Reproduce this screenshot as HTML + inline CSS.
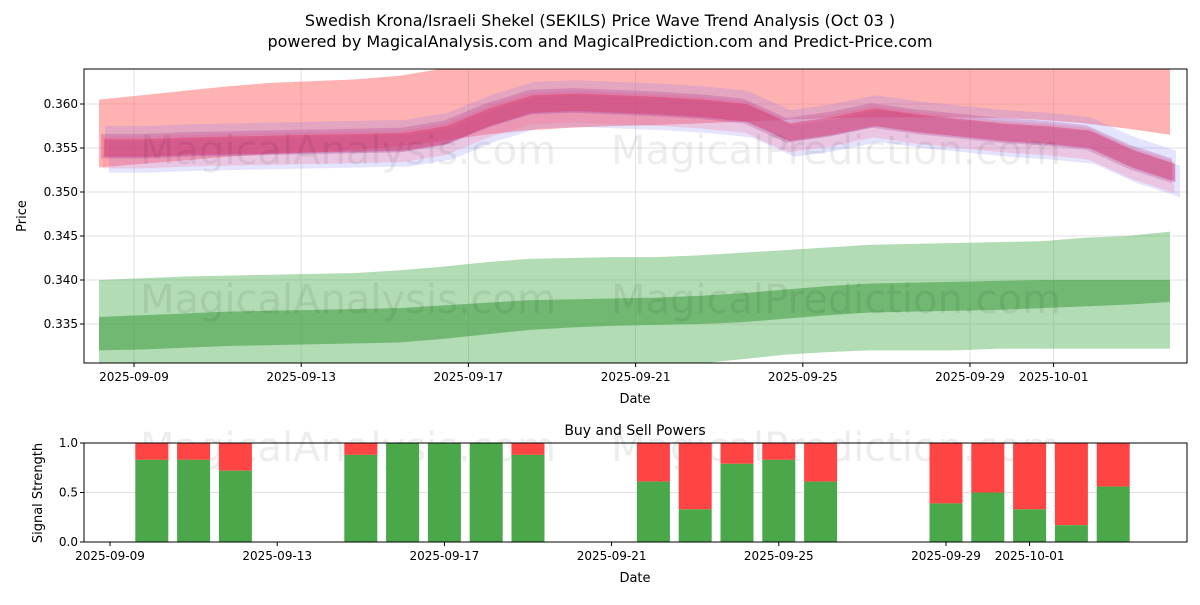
<!DOCTYPE html>
<html><head><meta charset="utf-8"><style>
body{margin:0;background:#fff;font-family:"Liberation Sans","DejaVu Sans",sans-serif;}
text{font-family:"DejaVu Sans","Liberation Sans",sans-serif;}
</style></head><body>
<svg id="chart" width="1200" height="600" xmlns="http://www.w3.org/2000/svg">
<text x="600" y="26" text-anchor="middle" font-size="16">Swedish Krona/Israeli Shekel (SEKILS) Price Wave Trend Analysis (Oct 03 )</text>
<text x="600" y="47" text-anchor="middle" font-size="16">powered by MagicalAnalysis.com and MagicalPrediction.com and Predict-Price.com</text>
<g id="topPanel"></g>
<g id="botPanel"></g>
</svg>
<script>
const days=[-1,0,1,2,3,4,5,6,7,8,9,10,11,12,13,14,15,16,17,18,19,20,21,22,23,24];
const center=[0.3550,0.3550,0.3552,0.3553,0.3554,0.3555,0.3556,0.3557,0.3565,0.3585,0.3600,0.3602,0.3600,0.3598,0.3595,0.3590,0.3568,0.3575,0.3585,0.3578,0.3573,0.3568,0.3565,0.3560,0.3538,0.3522];
const bigUpper=[0.3605,0.3610,0.3615,0.3620,0.3624,0.3626,0.3628,0.3632,0.3640,0.3650,0.3655,0.3655,0.3655,0.3655,0.3655,0.3655,0.3655,0.3655,0.3655,0.3655,0.3655,0.3655,0.3655,0.3655,0.3655,0.3640];
const bigLower=[0.3528,0.3532,0.3536,0.3540,0.3543,0.3545,0.3548,0.3552,0.3558,0.3565,0.3570,0.3573,0.3575,0.3576,0.3578,0.3580,0.3582,0.3584,0.3585,0.3585,0.3585,0.3584,0.3582,0.3578,0.3572,0.3565];
const gOutUp=[0.3400,0.3402,0.3404,0.3405,0.3406,0.3407,0.3408,0.3411,0.3415,0.3420,0.3424,0.3425,0.3426,0.3426,0.3428,0.3431,0.3434,0.3437,0.3440,0.3441,0.3442,0.3443,0.3444,0.3448,0.3450,0.3455];
const gOutLo=[0.3290,0.3290,0.3290,0.3290,0.3290,0.3290,0.3290,0.3290,0.3290,0.3290,0.3290,0.3290,0.3295,0.3300,0.3305,0.3310,0.3315,0.3318,0.3320,0.3320,0.3320,0.3322,0.3322,0.3322,0.3322,0.3322];
const gInUp=[0.3358,0.3360,0.3362,0.3364,0.3365,0.3366,0.3367,0.3368,0.3371,0.3374,0.3377,0.3378,0.3379,0.3380,0.3382,0.3385,0.3389,0.3393,0.3396,0.3397,0.3398,0.3399,0.3400,0.3400,0.3400,0.3400];
const gInLo=[0.3320,0.3321,0.3323,0.3325,0.3326,0.3327,0.3328,0.3329,0.3333,0.3338,0.3343,0.3346,0.3348,0.3349,0.3350,0.3352,0.3356,0.3360,0.3363,0.3364,0.3365,0.3366,0.3368,0.3370,0.3372,0.3375];
const xTickDays=[0,4,8,12,16,20,22];
const xTickLabels=["2025-09-09","2025-09-13","2025-09-17","2025-09-21","2025-09-25","2025-09-29","2025-10-01"];
const yTicks=[0.335,0.340,0.345,0.350,0.355,0.360];
const barDays=[1,2,3,6,7,8,9,10,13,14,15,16,17,20,21,22,23,24];
const buyVals=[0.83,0.83,0.72,0.88,1.0,1.0,1.0,0.88,0.61,0.33,0.79,0.83,0.61,0.39,0.5,0.33,0.17,0.56];
const sigTicks=[0,0.5,1.0];

const NS="http://www.w3.org/2000/svg";
function mk(parent,tag,attrs){const e=document.createElementNS(NS,tag);for(const k in attrs)e.setAttribute(k,attrs[k]);parent.appendChild(e);return e;}
const topG=document.getElementById('topPanel'),botG=document.getElementById('botPanel');
const L=84,R=1187,T=69,B=363;
const xs=d=>134+41.8*d;
const bandX=d=>99+(d+1)*42.84;
const ys=v=>104+(0.360-v)/0.005*44;
const clip=mk(topG,'clipPath',{id:'cp'});mk(clip,'rect',{x:L,y:T,width:R-L,height:B-T});
yTicks.forEach(v=>{const l=mk(topG,'line',{x1:L,x2:R,y1:ys(v),y2:ys(v),stroke:'#e0e0e0','stroke-width':1});

const t=mk(topG,'text',{x:L-6,y:ys(v)+4,'text-anchor':'end','font-size':12});t.textContent=v.toFixed(3);

const m=mk(topG,'line',{x1:L-4,x2:L,y1:ys(v),y2:ys(v),stroke:'#000'});});
xTickDays.forEach((d,i)=>{const l=mk(topG,'line',{x1:xs(d),x2:xs(d),y1:T,y2:B,stroke:'#e0e0e0','stroke-width':1});

const t=mk(topG,'text',{x:xs(d),y:B+18,'text-anchor':'middle','font-size':12});t.textContent=xTickLabels[i];

const m=mk(topG,'line',{x1:xs(d),x2:xs(d),y1:B,y2:B+4,stroke:'#000'});});
const g=mk(topG,'g',{'clip-path':'url(#cp)'});
function band(up,lo,fill,op,off,shift,name){let p='';
days.forEach((d,i)=>{p+=(i?'L':'M')+(bandX(d)+shift)+','+ys(up[i]+off);});
for(let i=days.length-1;i>=0;i--)p+='L'+(bandX(days[i])+shift)+','+ys(lo[i]+off);
const e=mk(g,'path',{d:p+'Z',fill:fill,'fill-opacity':op});
}
band(gOutUp,gOutLo,'#4caf50',0.43,0,0,'green-outer-band');
band(gInUp,gInLo,'#3c9a3c',0.55,0,0,'green-inner-band');
band(bigUpper,bigLower,'#ff5555',0.45,0,0,'red-outer-band');
const cu=center.map(v=>v+0.0018),cl=center.map(v=>v-0.0018);
band(cu,cl,'#6a6aff',0.18,-0.0010,10,'blue-band-1');
band(cu,cl,'#6a6aff',0.18,0.0007,6,'blue-band-2');
band(cu,cl,'#ff6a8a',0.25,-0.0005,4,'red-band-1');
band(center.map(v=>v+0.0014),center.map(v=>v-0.0014),'#b04090',0.28,0.0002,2,'purple-band');
band(center.map(v=>v+0.001),center.map(v=>v-0.001),'#e0305a',0.4,0,5,'red-core-band');
const wm1=mk(topG,'text',{x:348,y:164,'text-anchor':'middle','font-size':40,fill:'#000','fill-opacity':0.07});wm1.textContent='MagicalAnalysis.com';

const wm2=mk(topG,'text',{x:836,y:164,'text-anchor':'middle','font-size':40,fill:'#000','fill-opacity':0.07});wm2.textContent='MagicalPrediction.com';

const wm3=mk(topG,'text',{x:348,y:313,'text-anchor':'middle','font-size':40,fill:'#000','fill-opacity':0.07});wm3.textContent='MagicalAnalysis.com';

const wm4=mk(topG,'text',{x:836,y:313,'text-anchor':'middle','font-size':40,fill:'#000','fill-opacity':0.07});wm4.textContent='MagicalPrediction.com';

const fr=mk(topG,'rect',{x:L,y:T,width:R-L,height:B-T,fill:'none',stroke:'#000','stroke-width':1});

const xl=mk(topG,'text',{x:635,y:403,'text-anchor':'middle','font-size':13});xl.textContent='Date';

const yl=mk(topG,'text',{x:26,y:216,'text-anchor':'middle','font-size':13,transform:'rotate(-90 26 216)'});yl.textContent='Price';


const BT=443,BB=542;
const bx=d=>110+41.8*d;
const by=v=>BB-v*(BB-BT);
const bt=mk(botG,'text',{x:635,y:435,'text-anchor':'middle','font-size':14});bt.textContent='Buy and Sell Powers';

sigTicks.forEach(v=>{const l=mk(botG,'line',{x1:L,x2:R,y1:by(v),y2:by(v),stroke:'#e0e0e0','stroke-width':1});
});
const wm5=mk(botG,'text',{x:348,y:461,'text-anchor':'middle','font-size':40,fill:'#000','fill-opacity':0.07});wm5.textContent='MagicalAnalysis.com';

const wm6=mk(botG,'text',{x:836,y:461,'text-anchor':'middle','font-size':40,fill:'#000','fill-opacity':0.07});wm6.textContent='MagicalPrediction.com';

barDays.forEach((d,i)=>{const b=buyVals[i];
const s=mk(botG,'rect',{x:bx(d)-16.5,y:by(1),width:33,height:by(b)-by(1),fill:'#ff4444'});

const r=mk(botG,'rect',{x:bx(d)-16.5,y:by(b),width:33,height:BB-by(b),fill:'#4aa84a'});
});
sigTicks.forEach(v=>{const t=mk(botG,'text',{x:L-6,y:by(v)+4,'text-anchor':'end','font-size':12});t.textContent=v.toFixed(1);

const l=mk(botG,'line',{x1:L-4,x2:L,y1:by(v),y2:by(v),stroke:'#000'});});
xTickDays.forEach((d,i)=>{const t=mk(botG,'text',{x:bx(d),y:BB+18,'text-anchor':'middle','font-size':12});t.textContent=xTickLabels[i];

const l=mk(botG,'line',{x1:bx(d),x2:bx(d),y1:BB,y2:BB+4,stroke:'#000'});});
const bf=mk(botG,'rect',{x:L,y:BT,width:R-L,height:BB-BT,fill:'none',stroke:'#000','stroke-width':1});

const bxl=mk(botG,'text',{x:635,y:582,'text-anchor':'middle','font-size':13});bxl.textContent='Date';

const byl=mk(botG,'text',{x:42,y:493,'text-anchor':'middle','font-size':13,transform:'rotate(-90 42 493)'});byl.textContent='Signal Strength';

</script>
</body></html>
